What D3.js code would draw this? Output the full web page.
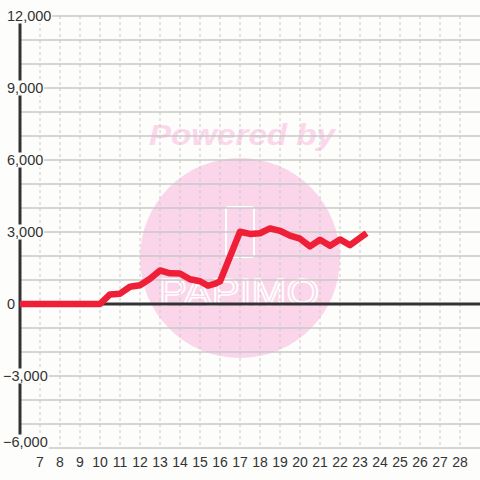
<!DOCTYPE html>
<html><head><meta charset="utf-8">
<script src="https://cdn.jsdelivr.net/npm/d3@7"></script>
<style>html,body{margin:0;padding:0;background:#fdfdfb;}svg{display:block;font-family:"Liberation Sans",Arial,sans-serif;}</style>
</head><body>
<svg id="c" width="480" height="480"></svg>
<script>
const xValues = [6, 10, 10.5, 11, 11.5, 12, 12.5, 13, 13.5, 14, 14.5, 15, 15.4, 15.8, 16, 17, 17.5, 18, 18.5, 19, 19.5, 20, 20.5, 21, 21.5, 22, 22.5, 23.33];
const yValues = [0, 0, 400, 430, 720, 780, 1050, 1400, 1280, 1270, 1030, 950, 760, 860, 940, 3010, 2920, 2950, 3150, 3050, 2850, 2720, 2400, 2680, 2430, 2690, 2450, 2950];
const xTicks = [7,8,9,10,11,12,13,14,15,16,17,18,19,20,21,22,23,24,25,26,27,28];
const yLabelTicks = [12000, 9000, 6000, 3000, 0, -3000, -6000];
const yGridTicks = d3.range(-6000, 12001, 1000);
const watermarkText = "Powered by";
const logoText = "PAPIMO";

const svg = d3.select("#c");
const x = d3.scaleLinear().domain([6, 29]).range([20, 480]);
const y = d3.scaleLinear().domain([-6000, 12000]).range([448, 16]);

// watermark
svg.append("circle").attr("cx", 240).attr("cy", 258).attr("r", 100).attr("fill", "#fbd6ea");
svg.append("text").attr("x", 242).attr("y", 145).attr("text-anchor", "middle")
  .attr("font-size", 30).attr("font-weight", "bold").attr("font-style", "italic")
  .attr("textLength", 186).attr("lengthAdjust", "spacingAndGlyphs")
  .attr("fill", "#fcd6ea").text(watermarkText);
svg.append("rect").attr("x", 226).attr("y", 207).attr("width", 28).attr("height", 50).attr("rx", 3)
  .attr("fill", "none").attr("stroke", "#fff").attr("stroke-width", 2);
svg.append("text").attr("x", 239).attr("y", 305).attr("text-anchor", "middle")
  .attr("font-size", 36).attr("textLength", 160).attr("lengthAdjust", "spacingAndGlyphs")
  .attr("fill", "#fbd6ea").attr("stroke", "#fff").attr("stroke-width", 1.5).text(logoText);

// grid
svg.append("g").selectAll("line").data(yGridTicks).join("line")
  .attr("x1", 20).attr("x2", 480).attr("y1", d => y(d)).attr("y2", d => y(d))
  .attr("stroke", "#c8c8c8").attr("stroke-width", 1.5);
svg.append("g").selectAll("line").data(xTicks).join("line")
  .attr("x1", d => x(d)).attr("x2", d => x(d)).attr("y1", 16).attr("y2", 448)
  .attr("stroke", "#c8c8c8").attr("stroke-width", 1).attr("stroke-dasharray", "3,3");

// axes
svg.append("line").attr("x1", x(6)).attr("x2", x(6)).attr("y1", 16).attr("y2", 448)
  .attr("stroke", "#333").attr("stroke-width", 3);
svg.append("line").attr("x1", 20).attr("x2", 480).attr("y1", y(0)).attr("y2", y(0))
  .attr("stroke", "#333").attr("stroke-width", 3);

// y labels with background
const fmt = d3.format(",");
const yl = svg.append("g").selectAll("g").data(yLabelTicks).join("g");
yl.each(function(d) {
  const g = d3.select(this);
  const cy = d === -6000 ? y(d) - 6 : y(d);
  const t = g.append("text").attr("x", d < 0 ? 3 : 7).attr("y", cy).attr("dy", "0.35em")
    .attr("font-size", 14.5).attr("fill", "#333").text(fmt(d));
  const bb = t.node().getBBox();
  g.insert("rect", "text").attr("x", bb.x - 1).attr("y", cy - 7.5).attr("width", bb.width + 2).attr("height", 15)
    .attr("fill", "#fdfdfb");
});

// x labels
svg.append("g").selectAll("text").data(xTicks).join("text")
  .attr("x", d => x(d)).attr("y", 462).attr("dy", "0.35em").attr("text-anchor", "middle")
  .attr("font-size", 14).attr("fill", "#333").text(d => d);

// series line
const pts = xValues.map((v, i) => [v, yValues[i]]);
svg.append("path").datum(pts)
  .attr("d", d3.line().x(d => x(d[0])).y(d => y(d[1])))
  .attr("fill", "none").attr("stroke", "#ee1f36").attr("stroke-width", 6.5).attr("stroke-linejoin", "round");
</script>
</body></html>
